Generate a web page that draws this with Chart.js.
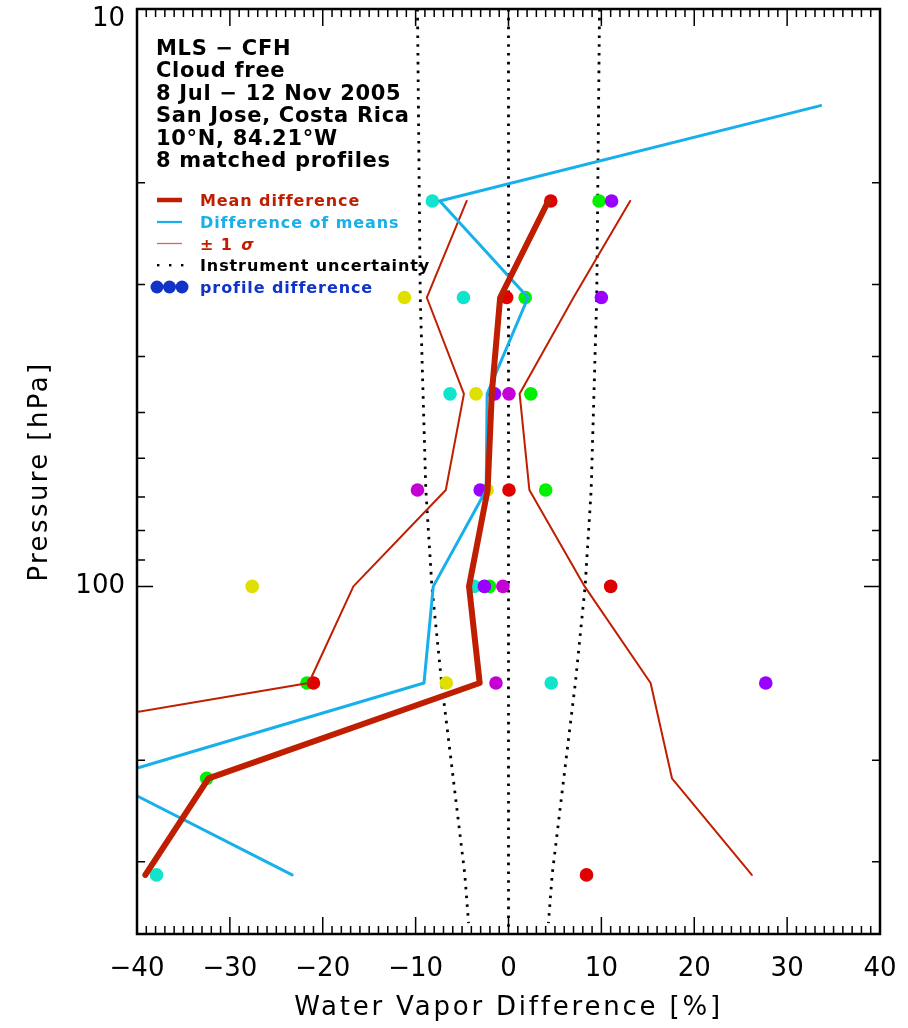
<!DOCTYPE html>
<html>
<head>
<meta charset="utf-8">
<script src="https://cdn.jsdelivr.net/npm/chart.js@4"></script>
<style>
  html, body { margin: 0; padding: 0; background: #fff; }
  canvas { display: block; }
</style>
</head>
<body>
<canvas id="chart" width="908" height="1028"></canvas>
<script>
// MLS - CFH water vapour comparison, San Jose 2005

// pressure levels (hPa) of the matched profiles
const levels = [21.5, 31.6, 46.4, 68.1, 100, 147, 215, 316];
const meanDiff = [4.3, -0.9, -1.8, -2.25, -4.25, -3.1, -32.3, -39.1];
const sigma = [8.8, 7.9, 3.0, 4.5, 12.45, 18.4, 49.9, 65.3];

// difference of the mean profiles
const meansLevels = [14.7, 21.5, 31.6, 46.4, 68.1, 100, 147, 215, 316];
const diffOfMeans = [33.6, -7.4, 2.1, -2.3, -2.4, -8.1, -9.1, -43.7, -23.3];

// combined instrument uncertainty (+/-)
const uncLevels = [10, 14.7, 21.5, 31.6, 46.4, 68.1, 100, 147, 215, 316, 383];
const uncertainty = [9.8, 9.7, 9.6, 9.5, 9.2, 8.9, 8.25, 7.2, 5.95, 4.7, 4.3];

// individual profile differences, one per sonde (null = missing)
const profYellow  = [null, -11.2, -3.5, -2.3, -27.6, -6.7, null, null];
const profCyan    = [-8.2, -4.85, -6.3, null, -3.7, 4.6, null, -37.9];
const profRed     = [4.55, -0.2, null, 0.05, 11.0, -21.0, null, 8.4];
const profGreen   = [9.75, 1.8, 2.4, 4.0, -2.05, -21.7, -32.5, null];
const profViolet  = [11.1, 10.0, -1.5, -3.05, -2.6, 27.7, null, null];
const profMagenta = [null, null, 0.05, -9.8, -0.6, -1.35, null, null];

// axis ticks
const xTickStep = 10;
const yLabelTicks = [10, 100];
const yMinorTicks = [20, 30, 40, 50, 60, 70, 80, 90, 200, 300];

const headerLines = [
  'MLS \u2212 CFH',
  'Cloud free',
  '8 Jul \u2212 12 Nov 2005',
  'San Jose, Costa Rica',
  '10\u00b0N, 84.21\u00b0W',
  '8 matched profiles'
];

const FONT = '"DejaVu Sans", sans-serif';
const RED = '#c01e00';
const BLUE = '#18b0ea';

function pts(xs, ps) {
  return xs.map((x, i) => ({ x: x, y: ps[i] })).filter(p => p.x !== null);
}

function lineSet(label, data, color, width, extra) {
  return Object.assign({
    label: label,
    data: data,
    showLine: true,
    borderColor: color,
    backgroundColor: color,
    borderWidth: width,
    pointRadius: 0,
    borderJoinStyle: 'round',
    borderCapStyle: 'round',
    tension: 0
  }, extra || {});
}

function dotSet(label, values, color) {
  return {
    label: label,
    data: pts(values, levels),
    showLine: false,
    pointRadius: 6.8,
    pointBorderWidth: 0,
    pointBackgroundColor: color,
    backgroundColor: color,
    borderColor: color
  };
}

const dotted = { borderDash: [2.6, 6.2], borderCapStyle: 'butt' };

// first dataset is drawn on top
const datasets = [
  lineSet('Mean difference', pts(meanDiff, levels), RED, 6),
  lineSet('Difference of means', pts(diffOfMeans, meansLevels), BLUE, 3),
  lineSet('-1 sigma', pts(meanDiff.map((m, i) => m - sigma[i]), levels), RED, 2),
  lineSet('+1 sigma', pts(meanDiff.map((m, i) => m + sigma[i]), levels), RED, 2),
  dotSet('violet', profViolet, '#9a00ff'),
  dotSet('magenta', profMagenta, '#c400d4'),
  dotSet('red', profRed, '#e00000'),
  dotSet('green', profGreen, '#00f000'),
  dotSet('cyan', profCyan, '#10e4cc'),
  dotSet('yellow', profYellow, '#e0e000'),
  lineSet('unc-', pts(uncertainty.map(v => -v), uncLevels), '#000', 2.8, dotted),
  lineSet('unc+', pts(uncertainty, uncLevels), '#000', 2.8, dotted),
  lineSet('zero', [{ x: 0, y: 10 }, { x: 0, y: 400 }], '#000', 2.8, dotted)
];

function drawText(ctx, text, x, y, font, color, spacing) {
  ctx.font = font;
  ctx.fillStyle = color;
  ctx.letterSpacing = spacing || '0px';
  ctx.fillText(text, x, y);
  const w = ctx.measureText(text).width;
  ctx.letterSpacing = '0px';
  return w;
}

// frame with inward ticks on all four sides
const framePlugin = {
  id: 'frame',
  afterDatasetsDraw(chart) {
    const { ctx, chartArea: a, scales } = chart;
    const x = scales.x, y = scales.y;
    ctx.save();
    ctx.strokeStyle = '#000';
    ctx.lineWidth = 1.5;
    ctx.beginPath();
    for (let v = x.min; v <= x.max; v++) {
      const px = x.getPixelForValue(v);
      const len = v % xTickStep === 0 ? 17 : 8;
      ctx.moveTo(px, a.bottom); ctx.lineTo(px, a.bottom - len);
      ctx.moveTo(px, a.top); ctx.lineTo(px, a.top + len);
    }
    yLabelTicks.concat(yMinorTicks).forEach(v => {
      const py = y.getPixelForValue(v);
      const len = yLabelTicks.includes(v) ? 16 : 8;
      ctx.moveTo(a.left, py); ctx.lineTo(a.left + len, py);
      ctx.moveTo(a.right, py); ctx.lineTo(a.right - len, py);
    });
    ctx.stroke();
    ctx.lineWidth = 2.5;
    ctx.strokeRect(a.left, a.top, a.right - a.left, a.bottom - a.top);
    ctx.restore();
  }
};

// header block, legend and axis titles
const notesPlugin = {
  id: 'notes',
  afterDraw(chart) {
    const { ctx, chartArea: a } = chart;
    ctx.save();
    ctx.textAlign = 'left';
    ctx.textBaseline = 'alphabetic';

    headerLines.forEach((t, i) => {
      drawText(ctx, t, 156, 55 + i * 22.4, 'bold 21px ' + FONT, '#000', '0.7px');
    });

    const lx0 = 157, lx1 = 182, tx = 200;
    const rows = [200, 222, 243.5, 265, 287];
    const lf = 'bold 16px ' + FONT;
    const ls = '0.9px';

    ctx.lineCap = 'butt';
    ctx.strokeStyle = RED; ctx.lineWidth = 4.5;
    ctx.beginPath(); ctx.moveTo(lx0, rows[0]); ctx.lineTo(lx1, rows[0]); ctx.stroke();
    drawText(ctx, 'Mean difference', tx, rows[0] + 6, lf, RED, ls);

    ctx.strokeStyle = BLUE; ctx.lineWidth = 2.2;
    ctx.beginPath(); ctx.moveTo(lx0, rows[1]); ctx.lineTo(lx1, rows[1]); ctx.stroke();
    drawText(ctx, 'Difference of means', tx, rows[1] + 6, lf, BLUE, ls);

    ctx.strokeStyle = '#d26a58'; ctx.lineWidth = 1.3;
    ctx.beginPath(); ctx.moveTo(lx0, rows[2]); ctx.lineTo(lx1, rows[2]); ctx.stroke();
    const w = drawText(ctx, '\u00b1 1 ', tx, rows[2] + 6, lf, RED, ls);
    drawText(ctx, '\u03c3', tx + w + 2, rows[2] + 6, 'italic bold 16px ' + FONT, RED);

    ctx.fillStyle = '#000';
    [158, 170, 182].forEach(dx => ctx.fillRect(dx - 1, rows[3] - 1, 2.4, 2.4));
    drawText(ctx, 'Instrument uncertainty', tx, rows[3] + 6, lf, '#000', ls);

    ctx.fillStyle = '#1034c8';
    [157, 169.5, 182].forEach(dx => {
      ctx.beginPath(); ctx.arc(dx, rows[4], 6.5, 0, Math.PI * 2); ctx.fill();
    });
    drawText(ctx, 'profile difference', tx, rows[4] + 6, lf, '#1034c8', ls);

    // axis titles
    const tf = '26px ' + FONT;
    ctx.textAlign = 'center';
    drawText(ctx, 'Water Vapor Difference [%]', (a.left + a.right) / 2, 1015, tf, '#000', '2.8px');
    ctx.translate(47, (a.top + a.bottom) / 2);
    ctx.rotate(-Math.PI / 2);
    drawText(ctx, 'Pressure [hPa]', 0, 0, tf, '#000', '2.4px');
    ctx.restore();
  }
};

const minus = v => (v < 0 ? '\u2212' + Math.abs(v) : String(v));

new Chart(document.getElementById('chart'), {
  type: 'scatter',
  data: { datasets: datasets },
  options: {
    responsive: false,
    devicePixelRatio: 1,
    animation: false,
    layout: { padding: { top: 9, right: 28, left: 0, bottom: 0 } },
    plugins: {
      legend: { display: false },
      tooltip: { enabled: false }
    },
    scales: {
      x: {
        type: 'linear',
        position: 'bottom',
        min: -40,
        max: 40,
        grid: { display: false, drawTicks: false },
        border: { display: false },
        ticks: {
          stepSize: xTickStep,
          padding: 20,
          color: '#000',
          font: { family: FONT, size: 26 },
          maxRotation: 0,
          autoSkip: false,
          callback: minus
        },
        afterFit(s) {
          s.height = 94;
          s.paddingLeft = 0;
          s.paddingRight = 0;
        }
      },
      y: {
        type: 'logarithmic',
        position: 'left',
        min: 10,
        max: 400,
        reverse: true,
        grid: { display: false, drawTicks: false },
        border: { display: false },
        afterBuildTicks(s) {
          s.ticks = yLabelTicks.map(v => ({ value: v }));
        },
        ticks: {
          padding: 12,
          color: '#000',
          // lineHeight sets how far the top label drops below the corner
          font: { family: FONT, size: 26, lineHeight: 0.8 },
          autoSkip: false,
          // the label at the top edge is pushed down one half line
          callback: v => (v === yLabelTicks[0] ? ['', String(v)] : String(v))
        },
        afterFit(s) {
          s.width = 137;
          s.paddingTop = 0;
          s.paddingBottom = 0;
        }
      }
    }
  },
  plugins: [framePlugin, notesPlugin]
});
</script>
</body>
</html>
